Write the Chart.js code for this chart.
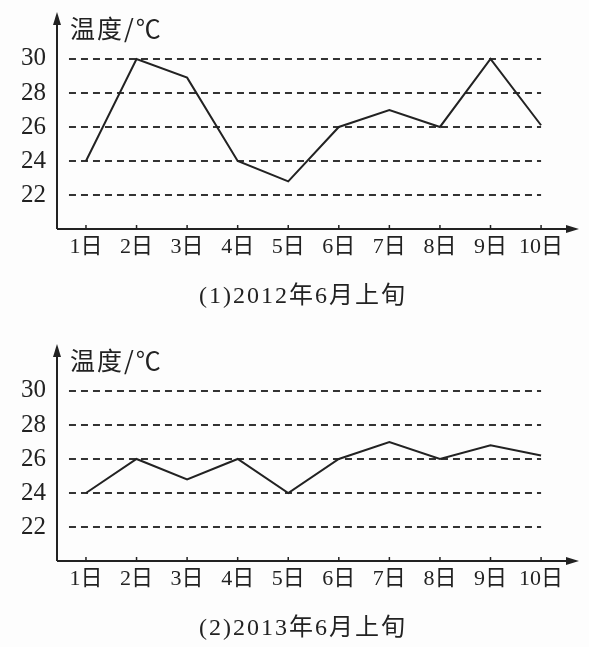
<!DOCTYPE html>
<html>
<head>
<meta charset="utf-8">
<script src="https://cdn.jsdelivr.net/npm/chart.js@4/dist/chart.umd.min.js"></script>
<style>
    body { margin: 0; background: #fdfdfd; }
    .box { position: absolute; left: 0; width: 589px; }
</style>
</head>
<body>
<div class="box" style="top:0;height:332px"><canvas id="c1"></canvas></div>
<div class="box" style="top:332px;height:315px"><canvas id="c2"></canvas></div>
<script>
const days     = ["1日", "2日", "3日", "4日", "5日", "6日", "7日", "8日", "9日", "10日"];
const temp2012 = [24, 30, 28.9, 24, 22.8, 26, 27, 26, 30, 26.1];
const temp2013 = [24, 26, 24.8, 26, 24, 26, 27, 26, 26.8, 26.2];
const yTicks   = [22, 24, 26, 28, 30];
const yTitle   = "温度/℃";
const captions = ["(1)2012年6月上旬", "(2)2013年6月上旬"];

const INK   = "#222222";
const SERIF = "'Liberation Serif', 'Noto Sans CJK SC', serif";

// dashed guide lines, axes with arrows, titles
const decor = {
    id: "decor",
    beforeDatasetsDraw(chart) {
        const { ctx } = chart;
        const x = chart.scales.x, y = chart.scales.y;
        const x0 = x.getPixelForValue(1) - 17, x1 = x.getPixelForValue(10);
        ctx.save();
        ctx.strokeStyle = "#333333";
        ctx.lineWidth = 2;
        ctx.setLineDash([7, 5]);
        yTicks.forEach(v => {
            const py = Math.round(y.getPixelForValue(v));
            ctx.beginPath();
            ctx.moveTo(x0, py);
            ctx.lineTo(x1, py);
            ctx.stroke();
        });
        ctx.restore();
    },
    afterDatasetsDraw(chart, args, opts) {
        const { ctx, chartArea } = chart;
        const x = chart.scales.x;
        const L = chartArea.left, B = chartArea.bottom, T = chartArea.top, R = chartArea.right;
        ctx.save();
        ctx.strokeStyle = INK;
        ctx.fillStyle = INK;
        ctx.lineWidth = 2;
        ctx.beginPath();
        ctx.moveTo(L, B); ctx.lineTo(L, T + 8);
        ctx.moveTo(L, B); ctx.lineTo(R - 8, B);
        ctx.stroke();
        // arrow heads
        ctx.beginPath();
        ctx.moveTo(L, T); ctx.lineTo(L - 4, T + 13); ctx.lineTo(L + 4, T + 13); ctx.closePath();
        ctx.fill();
        ctx.beginPath();
        ctx.moveTo(R, B); ctx.lineTo(R - 13, B - 4); ctx.lineTo(R - 13, B + 4); ctx.closePath();
        ctx.fill();
        // small ticks on the x axis
        ctx.lineWidth = 1.5;
        days.forEach((d, i) => {
            const px = x.getPixelForValue(i + 1);
            ctx.beginPath();
            ctx.moveTo(px, B); ctx.lineTo(px, B - 4);
            ctx.stroke();
        });
        // axis title
        ctx.font = "25px 'Noto Sans CJK SC', sans-serif";
        ctx.textBaseline = "middle";
        ctx.textAlign = "left";
        ctx.letterSpacing = "2px";
        ctx.fillText(yTitle, L + 13, T + 16);
        // caption
        ctx.font = "24px " + SERIF;
        ctx.textAlign = "center";
        ctx.letterSpacing = "2px";
        ctx.fillText(opts.caption, 303, B + 68);
        ctx.restore();
    }
};

function makeChart(id, values, caption) {
    new Chart(document.getElementById(id), {
        type: "line",
        data: {
            datasets: [{
                data: values.map((v, i) => ({ x: i + 1, y: v })),
                borderColor: INK,
                borderWidth: 2,
                pointRadius: 0,
                tension: 0,
                fill: false,
            }]
        },
        options: {
            responsive: true,
            maintainAspectRatio: false,
            animation: false,
            layout: { padding: { top: 12, right: 10, left: 0, bottom: 0 } },
            plugins: {
                legend: { display: false },
                tooltip: { enabled: false },
                decor: { caption },
            },
            scales: {
                x: {
                    type: "linear",
                    min: 0.427,
                    max: 10.75,
                    afterBuildTicks: s => { s.ticks = days.map((d, i) => ({ value: i + 1 })); },
                    afterFit: s => {
                        s.height = s.chart.height - 229;
                        s.paddingLeft = 0; s.paddingRight = 0;
                    },
                    grid: { display: false, drawTicks: false },
                    border: { display: false },
                    ticks: {
                        padding: 5,
                        color: INK,
                        font: { family: SERIF, size: 22 },
                        maxRotation: 0,
                        autoSkip: false,
                        callback: v => days[v - 1],
                    }
                },
                y: {
                    min: 20,
                    max: 32.76,
                    afterBuildTicks: s => { s.ticks = yTicks.map(v => ({ value: v })); },
                    afterFit: s => {
                        s.width = 57;
                        s.paddingTop = 0; s.paddingBottom = 0;
                    },
                    grid: { display: false, drawTicks: false },
                    border: { display: false },
                    ticks: {
                        padding: 11,
                        color: INK,
                        font: { family: SERIF, size: 25 },
                    }
                }
            }
        },
        plugins: [decor]
    });
}

makeChart("c1", temp2012, captions[0]);
makeChart("c2", temp2013, captions[1]);
</script>
</body>
</html>
